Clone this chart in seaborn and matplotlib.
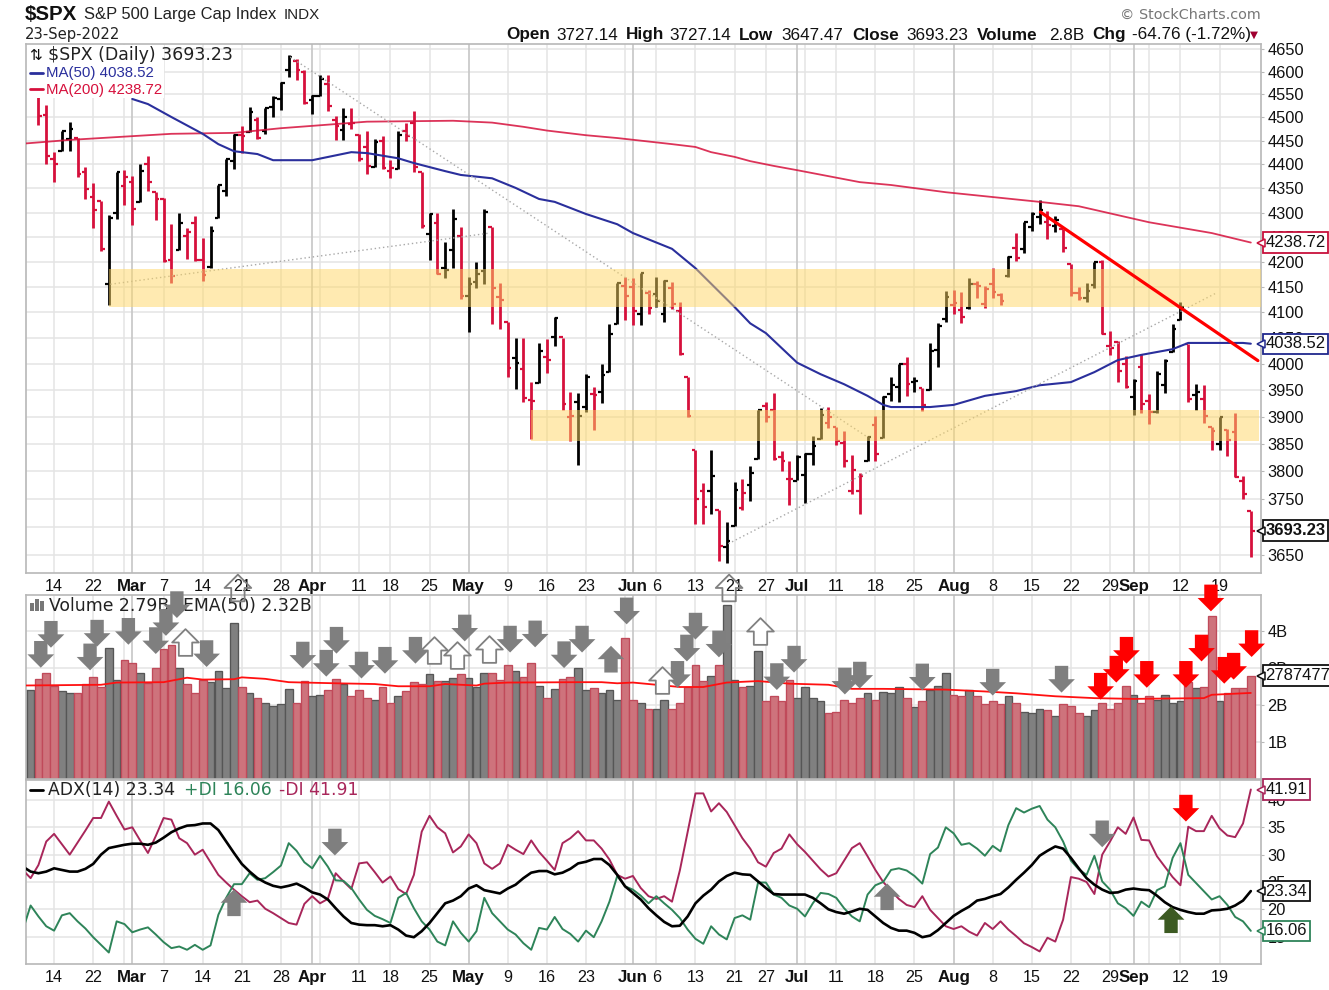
import numpy as np
import pandas as pd
import matplotlib
matplotlib.use("Agg")
import matplotlib.pyplot as plt
from matplotlib.path import Path
from matplotlib.patches import Rectangle
from matplotlib.transforms import blended_transform_factory
import seaborn as sns

W, H = 1329, 990

holidays = ['2022-02-21', '2022-04-15', '2022-05-30', '2022-06-20', '2022-07-04', '2022-09-05']
dates = pd.bdate_range('2022-02-08', '2022-09-23').drop(pd.to_datetime(holidays))
bars = np.arange(len(dates))

opens = [4480, 4547, 4553, 4506, 4412, 4429, 4455, 4456, 4385, 4332, 4324, 4156, 4299, 4354, 4364, 4322, 4401, 4342,
         4328, 4203, 4223, 4253, 4279, 4203, 4189, 4289, 4345, 4407, 4462, 4469, 4494, 4470, 4522, 4541, 4603, 4624, 4600,
         4538, 4547, 4572, 4495, 4474, 4485, 4462, 4437, 4395, 4449, 4386, 4391, 4472, 4489, 4385, 4256, 4279, 4187, 4223, 4253,
         4131, 4159, 4182, 4271, 4129, 4081, 4011, 3990, 3931, 3963, 4013, 4052, 4052, 3900, 3928, 3919, 3943, 3946, 3985, 4077,
         4151, 4150, 4096, 4137, 4135, 4096, 4148, 4102, 3975, 3839, 3764, 3764, 3729, 3665, 3701, 3734, 3775, 3821, 3920, 3913, 3826, 3786,
         3782, 3792, 3831, 3859, 3888, 3881, 3851, 3763, 3764, 3818, 3884, 3860, 3942, 3955, 4000, 3965, 3954, 3951, 4027, 4087,
         4113, 4105, 4108, 4155, 4116, 4156, 4133, 4171, 4227, 4225, 4270, 4291, 4281, 4273, 4267, 4195, 4138, 4127, 4154, 4199, 4034, 4041, 4000,
         3937, 3994, 3930, 3909, 3959, 4023, 4084, 4037, 3941, 3933, 3880, 3849, 3876, 3871, 3782, 3727.14]
highs = [4531, 4590, 4588, 4527, 4426, 4472, 4490, 4456, 4394, 4362, 4324, 4295, 4385, 4388, 4375, 4401, 4417, 4343,
         4329, 4277, 4299, 4269, 4292, 4247, 4272, 4358, 4412, 4465, 4481, 4522, 4501, 4520, 4546, 4576, 4637, 4627, 4603,
         4549, 4593, 4593, 4503, 4521, 4521, 4464, 4471, 4453, 4461, 4410, 4471, 4489, 4513, 4385, 4300, 4299, 4240, 4308, 4270,
         4170, 4200, 4308, 4271, 4158, 4081, 4049, 4050, 3965, 4039, 4047, 4090, 4050, 3946, 3944, 3981, 3956, 3999, 4076, 4158,
         4169, 4167, 4178, 4143, 4169, 4164, 4160, 4120, 3975, 3839, 3778, 3838, 3729, 3708, 3780, 3785, 3809, 3913, 3928, 3945, 3836, 3818,
         3829, 3832, 3865, 3916, 3919, 3881, 3874, 3829, 3796, 3864, 3902, 3939, 3975, 3999, 4013, 3975, 3954, 4039, 4079, 4141,
         4144, 4140, 4167, 4162, 4151, 4187, 4138, 4211, 4258, 4280, 4302, 4325, 4303, 4292, 4267, 4195, 4149, 4157, 4200, 4204, 4063, 4044, 4015,
         3970, 4018, 3942, 3987, 4010, 4077, 4119, 4038, 3962, 3959, 3880, 3900, 3877, 3907, 3790, 3727.14]
lows = [4465, 4547, 4484, 4401, 4364, 4429, 4429, 4374, 4327, 4268, 4221, 4114, 4287, 4315, 4274, 4322, 4345, 4284,
        4199, 4158, 4223, 4206, 4202, 4161, 4188, 4288, 4335, 4390, 4425, 4469, 4455, 4465, 4501, 4517, 4589, 4582, 4530,
        4507, 4547, 4514, 4451, 4451, 4475, 4408, 4381, 4395, 4390, 4371, 4391, 4449, 4385, 4268, 4203, 4175, 4167, 4188, 4125,
        4062, 4147, 4155, 4077, 4067, 3975, 3952, 3928, 3859, 3963, 3983, 4034, 3912, 3855, 3810, 3909, 3875, 3925, 3984, 4077,
        4084, 4075, 4074, 4097, 4110, 4081, 4107, 4017, 3900, 3705, 3705, 3722, 3640, 3636, 3701, 3730, 3745, 3821, 3890, 3820, 3800, 3739,
        3783, 3742, 3811, 3859, 3878, 3847, 3807, 3759, 3722, 3818, 3818, 3860, 3929, 3927, 3939, 3946, 3911, 3951, 3993, 4080,
        4097, 4079, 4107, 4128, 4108, 4128, 4113, 4169, 4201, 4217, 4262, 4277, 4246, 4261, 4219, 4131, 4123, 4120, 4147, 4058, 4017, 3965, 3954,
        3903, 3907, 3886, 3906, 3945, 4023, 4084, 3928, 3912, 3888, 3838, 3838, 3828, 3789, 3750, 3647.47]
closes = [4521.54, 4587.18, 4504.08, 4418.64, 4401.67, 4471.07, 4475.01, 4380.26, 4348.87, 4304.76, 4225.50, 4288.70, 4384.65, 4373.94,
          4306.26, 4386.54, 4363.49, 4328.87, 4201.09, 4170.70, 4277.88, 4259.52, 4204.31, 4173.11, 4262.45, 4357.86, 4411.67, 4463.12,
          4461.18, 4511.61, 4456.24, 4520.16, 4543.06, 4575.52, 4631.60, 4602.45, 4530.41, 4545.86, 4582.64, 4525.12, 4481.15, 4500.21,
          4488.28, 4412.53, 4397.45, 4446.59, 4392.59, 4391.69, 4462.21, 4459.45, 4393.66, 4271.78, 4296.12, 4175.20, 4183.96, 4287.50, 4131.93,
          4155.38, 4175.48, 4300.17, 4146.87, 4123.34, 3991.24, 4001.05, 3935.18, 3930.08, 4023.89, 4008.01, 4088.85, 3923.68, 3900.79, 3901.36,
          3973.75, 3941.48, 3978.73, 4057.84, 4158.24, 4132.15, 4101.23, 4176.82, 4108.54, 4121.43, 4160.68, 4115.77, 4017.82, 3900.86, 3749.63,
          3735.48, 3789.99, 3666.77, 3674.84, 3764.79, 3759.89, 3795.73, 3911.74, 3900.11, 3821.55, 3818.83, 3785.38, 3825.33, 3831.39, 3845.08,
          3902.62, 3899.38, 3854.43, 3818.80, 3801.78, 3790.38, 3863.16, 3830.85, 3936.69, 3959.90, 3998.95, 3961.63, 3966.84, 3921.05, 4023.61,
          4072.43, 4130.29, 4118.63, 4091.19, 4155.17, 4151.94, 4145.19, 4140.06, 4122.47, 4210.24, 4207.27, 4280.15, 4297.14, 4305.20, 4274.04,
          4283.74, 4228.48, 4137.99, 4128.73, 4140.77, 4199.12, 4057.66, 4030.61, 3986.16, 3955.00, 3966.85, 3924.26, 3908.19, 3979.87, 4006.18,
          4067.36, 4110.41, 3932.69, 3946.01, 3901.35, 3873.33, 3899.89, 3855.93, 3789.93, 3757.99, 3693.23]

# volume in billions
volume = [2.40, 2.40, 2.69, 2.86, 2.50, 2.36, 2.31, 2.32, 2.57, 2.74, 2.48, 3.54, 2.68, 3.20, 3.12, 2.86, 2.58, 2.99, 3.50, 3.62,
          2.99, 2.57, 2.32, 2.68, 2.61, 2.90, 2.44, 4.21, 2.49, 2.32, 2.18, 2.05, 1.96, 2.02, 2.43, 2.05, 2.65, 2.23, 2.27, 2.40,
          2.69, 2.56, 2.23, 2.40, 2.18, 2.14, 2.49, 2.05, 2.23, 2.36, 2.61, 2.57, 2.82, 2.65, 2.65, 2.73, 2.82, 2.73, 2.49, 2.86,
          2.86, 2.68, 3.08, 2.90, 2.74, 3.12, 2.52, 2.18, 2.43, 2.69, 2.74, 2.99, 2.40, 2.44, 2.32, 2.40, 2.14, 3.80, 2.14, 2.05,
          1.89, 1.89, 2.14, 1.89, 2.05, 2.49, 3.08, 2.65, 2.77, 3.08, 4.68, 2.68, 2.48, 2.52, 3.45, 2.10, 2.23, 2.10, 2.68, 2.18,
          2.48, 2.18, 2.10, 1.77, 1.80, 2.14, 2.05, 2.18, 2.32, 2.14, 2.35, 2.31, 2.49, 2.18, 1.93, 2.10, 2.40, 2.52, 2.86, 2.27,
          2.23, 2.40, 2.23, 2.02, 2.10, 2.02, 2.23, 2.05, 1.80, 1.77, 1.89, 1.85, 1.71, 2.02, 1.97, 1.77, 1.71, 1.85, 2.06, 1.89,
          2.06, 2.52, 2.27, 2.06, 2.23, 2.14, 2.27, 2.06, 2.10, 2.61, 2.44, 2.49, 4.39, 2.10, 2.32, 2.44, 2.44, 2.79]

vol_ema_bars = [0, 10, 12, 18, 21, 23, 27, 28, 31, 34, 40, 45, 48, 52, 54, 58, 59, 62, 71, 74, 76, 78, 84, 87, 90, 94, 98, 103, 106,
                110, 118, 123, 127, 132, 137, 142, 151, 152, 157]
vol_ema = [2.52, 2.54, 2.60, 2.61, 2.73, 2.68, 2.69, 2.74, 2.70, 2.61, 2.58, 2.56, 2.50, 2.50, 2.56, 2.52, 2.57, 2.60, 2.61, 2.61, 2.58,
           2.60, 2.48, 2.48, 2.60, 2.64, 2.57, 2.54, 2.43, 2.43, 2.41, 2.36, 2.31, 2.23, 2.18, 2.16, 2.18, 2.27, 2.32]

ma50_bars = [14, 16, 19, 23, 25, 27, 30, 32, 37, 42, 44, 48, 50, 54, 56, 60, 63, 66, 68, 72, 76, 78, 83, 86, 91, 93, 95, 99, 102, 105,
             108, 110, 111, 116, 119, 123, 127, 130, 134, 137, 140, 143, 147, 149, 156, 157]
ma50 = [4540, 4529, 4501, 4465, 4443, 4428, 4422, 4409, 4409, 4426, 4424, 4413, 4403, 4386, 4378, 4371, 4351, 4328, 4322, 4297, 4276,
        4258, 4226, 4187, 4110, 4078, 4059, 4002, 3980, 3961, 3939, 3922, 3918, 3918, 3922, 3939, 3948, 3959, 3965, 3984, 4007, 4017,
        4028, 4040, 4040, 4038.52]
ma200_bars = [0, 6, 14, 19, 27, 33, 37, 44, 55, 60, 64, 67, 72, 76, 83, 86, 88, 91, 93, 96, 99, 107, 111, 118, 130, 135, 144, 152, 157]
ma200 = [4444, 4452, 4460, 4465, 4467, 4477, 4482, 4491, 4493, 4489, 4480, 4472, 4462, 4456, 4443, 4437, 4426, 4416, 4407, 4397, 4388,
         4363, 4357, 4342, 4322, 4313, 4280, 4258, 4238.72]

adx = [27.8, 26.9, 26.6, 26.9, 27.5, 27.2, 26.9, 26.9, 27.4, 28.3, 30.0, 31.2, 31.5, 31.8, 32.0, 32.0, 31.8, 32.2, 33.1, 34.1,
       34.8, 35.3, 35.4, 35.7, 35.7, 34.5, 32.4, 30.3, 28.3, 26.9, 25.7, 24.9, 24.3, 24.0, 24.3, 24.7, 24.0, 23.1, 22.7, 21.8,
       20.2, 18.7, 17.5, 17.2, 17.1, 17.1, 16.9, 17.1, 16.3, 15.2, 14.9, 16.0, 17.5, 19.3, 21.1, 21.6, 22.4, 23.8, 24.4, 23.5,
       23.2, 22.9, 23.8, 24.5, 25.7, 26.7, 27.0, 27.0, 26.4, 26.7, 27.4, 28.4, 28.7, 29.2, 29.2, 28.1, 26.3, 24.2, 23.0, 21.8,
       20.2, 18.9, 17.7, 16.9, 17.0, 18.7, 21.1, 22.5, 23.6, 25.1, 26.1, 26.7, 26.4, 26.3, 25.1, 23.9, 22.8, 22.7, 22.7, 22.7,
       22.7, 22.1, 21.1, 20.0, 19.5, 19.2, 19.6, 20.1, 19.9, 18.7, 17.5, 16.6, 16.1, 16.1, 15.7, 14.9, 15.2, 16.2, 17.5, 18.8,
       19.7, 20.5, 21.6, 21.9, 22.4, 22.8, 24.0, 25.4, 26.7, 28.1, 29.8, 30.7, 31.5, 31.1, 29.4, 27.5, 25.7, 24.5, 23.6, 23.0,
       23.1, 23.6, 23.8, 23.6, 23.5, 22.5, 21.3, 20.4, 19.9, 19.5, 19.2, 19.2, 19.8, 19.9, 20.1, 20.7, 21.6, 23.34]
plus_di = [16.2, 20.7, 18.7, 16.9, 16.1, 18.9, 19.3, 17.8, 16.5, 14.9, 13.5, 12.1, 17.8, 17.3, 15.8, 16.3, 16.7, 15.4, 14.0, 12.9,
           13.2, 12.6, 13.5, 12.6, 13.4, 19.0, 22.1, 24.6, 24.6, 26.6, 25.4, 25.7, 26.8, 28.0, 32.1, 30.7, 28.6, 27.5, 29.8, 27.8,
           25.3, 25.2, 23.9, 21.8, 19.9, 18.8, 18.2, 17.5, 22.1, 23.0, 20.2, 17.8, 16.3, 14.1, 13.4, 17.8, 15.7, 14.1, 16.0, 22.1,
           19.3, 17.8, 16.3, 15.4, 13.8, 12.6, 16.6, 16.3, 18.6, 16.4, 15.5, 14.1, 16.1, 14.9, 17.8, 21.4, 26.1, 24.2, 23.6, 22.5,
           21.1, 22.4, 21.1, 19.9, 18.4, 16.3, 14.6, 13.7, 16.9, 15.4, 14.5, 18.4, 18.9, 18.1, 24.9, 24.9, 22.7, 22.1, 20.7, 20.1,
           18.7, 21.1, 23.0, 22.8, 22.1, 20.2, 18.7, 17.8, 22.7, 24.4, 25.0, 27.2, 27.5, 27.1, 26.1, 24.7, 30.1, 31.3, 35.0, 33.9,
           31.8, 32.1, 31.1, 29.8, 31.6, 30.6, 35.4, 38.5, 37.7, 38.4, 38.9, 36.4, 35.0, 32.4, 28.9, 27.3, 26.3, 29.8, 25.1, 23.6,
           21.1, 20.2, 18.8, 21.4, 20.4, 23.5, 24.2, 29.4, 32.1, 26.3, 24.8, 23.3, 21.8, 22.4, 20.8, 18.6, 17.8, 16.06]
minus_di = [27.2, 25.7, 28.1, 32.4, 33.8, 31.9, 30.0, 32.2, 34.4, 36.7, 36.7, 39.7, 37.1, 34.6, 35.0, 32.6, 30.3, 33.4, 36.7, 36.4,
            33.0, 32.1, 30.0, 30.9, 28.6, 26.3, 24.9, 23.6, 22.4, 21.3, 21.6, 20.1, 19.3, 18.4, 17.5, 17.2, 21.0, 22.4, 21.1, 21.9,
            26.6, 25.1, 23.7, 28.4, 28.6, 26.8, 24.9, 26.0, 23.7, 22.8, 26.3, 34.2, 37.1, 35.0, 33.9, 30.4, 31.5, 33.7, 32.1, 28.4,
            27.4, 28.4, 31.8, 30.9, 30.1, 32.6, 30.5, 28.9, 27.2, 32.1, 33.0, 34.3, 32.6, 32.6, 31.1, 29.1, 26.3, 25.6, 26.1, 23.9,
            22.4, 21.9, 22.4, 21.4, 27.1, 34.2, 41.2, 41.2, 37.9, 39.4, 37.8, 35.4, 33.0, 31.1, 28.6, 27.8, 30.3, 31.1, 33.7, 31.9,
            30.5, 28.9, 27.3, 26.0, 26.6, 28.9, 31.2, 32.1, 29.7, 27.2, 25.0, 23.4, 21.9, 20.8, 20.4, 22.4, 19.9, 18.4, 16.9, 16.4,
            16.9, 15.9, 15.2, 17.5, 16.4, 17.8, 16.3, 15.1, 13.8, 13.1, 12.3, 14.8, 14.1, 18.1, 25.9, 25.6, 25.0, 22.8, 30.0, 32.4,
            35.0, 33.8, 36.8, 32.7, 32.6, 29.7, 27.8, 25.9, 24.4, 35.1, 34.3, 34.3, 37.1, 34.8, 33.5, 33.2, 35.7, 41.91]

week_dates = ['2022-02-14', '2022-02-22', '2022-02-28', '2022-03-07', '2022-03-14', '2022-03-21', '2022-03-28', '2022-04-04',
              '2022-04-11', '2022-04-18', '2022-04-25', '2022-05-09', '2022-05-16', '2022-05-23', '2022-05-31', '2022-06-06',
              '2022-06-13', '2022-06-21', '2022-06-27', '2022-07-05', '2022-07-11', '2022-07-18', '2022-07-25', '2022-08-08',
              '2022-08-15', '2022-08-22', '2022-08-29', '2022-09-06', '2022-09-12', '2022-09-19']
week_labels = ['14', '22', '', '7', '14', '21', '28', '', '11', '18', '25', '9', '16', '23', '', '6',
               '13', '21', '27', '', '11', '18', '25', '8', '15', '22', '29', '', '12', '19']
month_dates = ['2022-03-01', '2022-04-01', '2022-05-02', '2022-06-01', '2022-07-01', '2022-08-01', '2022-09-01']
month_labels = ['Mar', 'Apr', 'May', 'Jun', 'Jul', 'Aug', 'Sep']

price_ticks = list(range(3650, 4651, 50))
vol_ticks = [1, 2, 3, 4]
adx_ticks = [15, 20, 25, 30, 35, 40]

# support zones (low, high, first bar, last bar)
zones = [(4110, 4185, 11, 158.3), (3855, 3913, 65, 158)]
# dotted and red trend lines: bar, price
dotted_lines = [([11.2, 59.7], [4155, 4258]), ([34.2, 108], [4632, 3862]), ([90.2, 152.5], [3670, 4137])]
red_line = ([130.1, 157.9], [4301, 4006])

# annotation arrows, centre as (bar, value)
vol_down = [(2.3, 3.36), (3.6, 3.90), (8.6, 3.29), (9.5, 3.93), (13.5, 3.98), (17.0, 3.73), (18.3, 4.22), (19.7, 4.70),
            (23.5, 3.38), (35.8, 3.34), (38.8, 3.12), (40.1, 3.74), (43.3, 3.07), (46.3, 3.20), (50.2, 3.47), (56.5, 4.07),
            (62.3, 3.77), (65.5, 3.91), (69.2, 3.35), (71.5, 3.77), (77.2, 4.53), (83.7, 2.82), (84.9, 3.53), (86.0, 4.12),
            (89.0, 3.64), (96.4, 2.76), (98.6, 3.23), (105.1, 2.64), (107.0, 2.80), (115.0, 2.75), (124.0, 2.61), (132.8, 2.69)]
vol_hollow = [(20.7, 3.69), (52.6, 3.47), (55.5, 3.35), (59.6, 3.50), (81.7, 2.66), (94.3, 3.99)]
vol_hollow_top = [(27.5, 5.15), (90.3, 5.15)]
vol_up = [(75.2, 3.23)]
vol_red = [(137.8, 2.50), (139.8, 2.96), (141.1, 3.47), (143.7, 2.82), (148.7, 2.82), (150.7, 3.53), (151.9, 4.88),
           (153.6, 2.93), (154.8, 3.04), (157.1, 3.65)]
adx_down = [(39.9, 32.3), (138.0, 33.8)]
adx_up = [(27.0, 21.2), (110.5, 22.3)]
adx_red = [(148.7, 38.5)]
adx_green = [(146.8, 18.1)]

RED = '#D6103C'
BLUE = '#2A2F9C'
GRID = '#E4E4E4'
MONTH_GRID = '#C6C6C6'
SPINE = '#B8B8B8'
ARROW = '#7F7F7F'
MAROON = '#A8265A'
GREEN = '#2E8459'
FONT = 'Liberation Sans'

sns.set_style('white')
plt.rcParams['font.family'] = FONT

fig = plt.figure(figsize=(W / 100, H / 100), dpi=100)

up = np.r_[True, np.array(closes[1:]) >= np.array(closes[:-1])]
colors = np.where(up, 'black', RED)
df = pd.DataFrame({'bar': bars, 'volume': volume, 'dir': np.where(up, 'up', 'down')})

week_bars = [dates.get_loc(pd.Timestamp(d)) for d in week_dates]
month_bars = [dates.get_loc(pd.Timestamp(d)) for d in month_dates]
tick_bars = week_bars + month_bars
tick_labels = week_labels + month_labels

down_shape = Path([(-.25, .5), (.25, .5), (.25, 0), (.5, 0), (0, -.5), (-.5, 0), (-.25, 0), (-.25, .5)], closed=True)
up_shape = Path([(-.25, -.5), (.25, -.5), (.25, 0), (.5, 0), (0, .5), (-.5, 0), (-.25, 0), (-.25, -.5)], closed=True)


def panel(top, bottom):
    ax = fig.add_axes([26 / W, 1 - bottom / H, 1235 / W, (bottom - top) / H])
    ax.patch.set_alpha(0)
    return ax


def finish(ax, yticks, ylabels, ylim, xlabels=True):
    ax.set_xlim(0.41, 158.3)
    ax.set_ylim(*ylim)
    ax.set_yticks(yticks)
    ax.set_yticklabels(ylabels)
    ax.yaxis.set_minor_locator(plt.NullLocator())
    ax.yaxis.tick_right()
    ax.set_xticks(tick_bars)
    ax.set_xticklabels(tick_labels if xlabels else [])
    ax.set_xticks(bars[1:], minor=True)
    ax.set_xlabel('')
    ax.set_ylabel('')
    ax.tick_params(axis='y', labelsize=11.8, length=2, width=0.8, color=SPINE, pad=2.5, labelcolor='#111111')
    ax.tick_params(axis='x', labelsize=11.6, length=2, width=0.8, color=SPINE, pad=2.5, labelcolor='#111111')
    ax.tick_params(axis='x', which='minor', length=1.2, width=0.6, color=GRID)
    for lbl in ax.get_xticklabels():
        if lbl.get_text() in month_labels:
            lbl.set_fontweight('bold')
            lbl.set_fontsize(12.2)
    for s in ax.spines.values():
        s.set_color(SPINE)
        s.set_linewidth(1.2)
        s.set_visible(True)
    for y in yticks:
        ax.axhline(y, color=GRID, lw=1.1, zorder=0)
    for b in week_bars:
        ax.axvline(b, color=GRID, lw=1.1, zorder=0)
    for b in month_bars:
        ax.axvline(b, color=MONTH_GRID, lw=1.2, zorder=0.5)


def arrows(ax, pts, shape, fc, ec=None):
    xs, ys = zip(*pts)
    ax.scatter(xs, ys, marker=shape, s=370, facecolor=fc, edgecolor=ec if ec else 'none',
               linewidth=1.3 if ec else 0, clip_on=False, zorder=8)


def px_text(ax, x, y, s, **kw):
    kw.setdefault('va', 'center')
    kw.setdefault('ha', 'left')
    kw.setdefault('color', '#111111')
    kw.setdefault('zorder', 6)
    ax.text(x / W, 1 - y / H, s, transform=fig.transFigure, clip_on=False, **kw)


def value_box(ax, val, text, color, weight='normal'):
    trans = blended_transform_factory(ax.transAxes, ax.transData)
    ax.text(1.0036, val, text, transform=trans, va='center', ha='left', fontsize=12, fontweight=weight, color='#111111',
            zorder=10, clip_on=False,
            bbox=dict(boxstyle='square,pad=0.16', fc='white', ec=color, lw=1.3))
    ax.plot([0.9998], [val], transform=trans, marker='<', ms=6, mfc='white', mec=color, mew=1.1,
            clip_on=False, zorder=11, ls='none')


# price panel
ax1 = panel(44, 573)
ax1.set_yscale('log')
ax1.vlines(bars, lows, highs, colors=colors, lw=2.0, zorder=3)
ax1.hlines(opens, bars - 0.47, bars, colors=colors, lw=1.6, zorder=3)
ax1.hlines(closes, bars, bars + 0.47, colors=colors, lw=1.6, zorder=3)
sns.lineplot(x=ma200_bars, y=ma200, ax=ax1, color=RED, lw=1.3, alpha=0.85, zorder=4)
sns.lineplot(x=ma50_bars, y=ma50, ax=ax1, color=BLUE, lw=1.5, zorder=4)
for xs, ys in dotted_lines:
    ax1.plot(xs, ys, color='#A8A8A8', lw=1, ls=(0, (1, 2)), zorder=4)
for lo, hi, first, last in zones:
    ax1.fill_between([first, last], lo, hi, color='#FFD764', alpha=0.5, lw=0, zorder=5)
ax1.plot(red_line[0], red_line[1], color='#FF0000', lw=2.3, zorder=6, solid_capstyle='round')
finish(ax1, price_ticks, [str(p) for p in price_ticks], (3619, 4661))
ax1.add_patch(Rectangle((27 / W, 1 - 98 / H), 137 / W, 53 / H, transform=fig.transFigure, fc='white', ec='none', zorder=7))
px_text(ax1, 29, 55, '\u21c5', fontsize=11, family='DejaVu Sans', zorder=9)
px_text(ax1, 48, 55, '$SPX (Daily) 3693.23', fontsize=12.5, family='DejaVu Sans', color='#222222', zorder=9)
ax1.plot([30 / W, 43 / W], [1 - 72.5 / H] * 2, color=BLUE, lw=2, transform=fig.transFigure, clip_on=False, zorder=9)
ax1.plot([30 / W, 43 / W], [1 - 89 / H] * 2, color=RED, lw=2, transform=fig.transFigure, clip_on=False, zorder=9)
px_text(ax1, 46, 73, 'MA(50) 4038.52', fontsize=10.8, color=BLUE, zorder=9)
px_text(ax1, 46, 90, 'MA(200) 4238.72', fontsize=10.8, color=RED, zorder=9)
value_box(ax1, 4238.72, '4238.72', '#C8103C')
value_box(ax1, 4038.52, '4038.52', '#20288C')
value_box(ax1, 3693.23, '3693.23', '#111111', weight='bold')

# header
px_text(ax1, 25, 14, '$SPX', fontsize=14.8, fontweight='bold')
px_text(ax1, 84, 15, 'S&P 500 Large Cap Index', fontsize=11.9, color='#222222')
px_text(ax1, 284, 15, 'INDX', fontsize=10.9, color='#222222')
px_text(ax1, 25, 35, '23-Sep-2022', fontsize=10.6, family='DejaVu Sans', color='#222222')
for x, s, bold in [(506, 'Open', True), (556, '3727.14', False), (626, 'High', True), (669, '3727.14', False),
                   (739, 'Low', True), (781, '3647.47', False), (852, 'Close', True), (906, '3693.23', False),
                   (977, 'Volume', True), (1049, '2.8B', False), (1092, 'Chg', True), (1132, '-64.76 (-1.72%)', False)]:
    px_text(ax1, x, 35, s, fontsize=12.3, fontweight='bold' if bold else 'normal')
px_text(ax1, 1250, 35, '\u25bc', fontsize=7.5, family='DejaVu Sans', color='#A00030')
px_text(ax1, 1261, 15, '\u00a9 StockCharts.com', fontsize=10.4, family='DejaVu Sans', color='#777777', ha='right')

# volume panel
ax2 = panel(595, 779)
sns.barplot(data=df, x='bar', y='volume', hue='dir', palette={'up': '#808080', 'down': '#CE737C'}, hue_order=['up', 'down'],
            native_scale=True, dodge=False, width=0.98, saturation=1, legend=False, ax=ax2, zorder=2)
for p in ax2.patches:
    face = matplotlib.colors.to_hex(p.get_facecolor())
    p.set_edgecolor('#565656' if face == '#808080' else '#C04A5A')
    p.set_linewidth(0.95)
sns.lineplot(x=vol_ema_bars, y=vol_ema, ax=ax2, color='#FF1010', lw=1.3, zorder=4)
finish(ax2, vol_ticks, [f'{v}B' for v in vol_ticks], (0, 4.96), xlabels=False)
px_text(ax2, 49, 606, 'Volume 2.79B', fontsize=12.4, family='DejaVu Sans', color='#222222')
px_text(ax2, 183, 606, 'EMA(50) 2.32B', fontsize=12.4, family='DejaVu Sans', color='#222222')
for x0, top in [(30, 603), (35, 599), (40, 601)]:
    ax2.add_patch(Rectangle((x0 / W, 1 - 611 / H), 3.5 / W, (611 - top) / H, transform=fig.transFigure, fc='#777777', ec='none', zorder=6))
arrows(ax2, vol_down, down_shape, ARROW)
arrows(ax2, vol_up, up_shape, ARROW)
arrows(ax2, vol_hollow, up_shape, 'white', '#808080')
arrows(ax2, vol_hollow_top, up_shape, 'none', '#808080')
arrows(ax2, vol_red, down_shape, '#FF0000')
value_box(ax2, 2.787477, '2787477', '#111111')

# ADX panel
ax3 = panel(780, 964)
sns.lineplot(x=bars, y=minus_di, ax=ax3, color=MAROON, lw=1.4, zorder=3)
sns.lineplot(x=bars, y=plus_di, ax=ax3, color=GREEN, lw=1.4, zorder=3)
sns.lineplot(x=bars, y=adx, ax=ax3, color='black', lw=1.9, zorder=4)
finish(ax3, adx_ticks, [str(t) for t in adx_ticks], (10, 43.65))
ax3.plot([30 / W, 43 / W], [1 - 790 / H] * 2, color='black', lw=2, transform=fig.transFigure, clip_on=False, zorder=6)
px_text(ax3, 48, 790, 'ADX(14) 23.34', fontsize=12.4, family='DejaVu Sans', color='#222222')
px_text(ax3, 184, 790, '+DI 16.06', fontsize=12.4, family='DejaVu Sans', color=GREEN)
px_text(ax3, 279, 790, '-DI 41.91', fontsize=12.4, family='DejaVu Sans', color=MAROON)
arrows(ax3, adx_down, down_shape, ARROW)
arrows(ax3, adx_up, up_shape, ARROW)
arrows(ax3, adx_red, down_shape, '#FF0000')
arrows(ax3, adx_green, up_shape, '#3C5A22')
value_box(ax3, 41.91, '41.91', MAROON)
value_box(ax3, 23.34, '23.34', '#111111')
value_box(ax3, 16.06, '16.06', GREEN)

fig.savefig('out.png', dpi=100)
